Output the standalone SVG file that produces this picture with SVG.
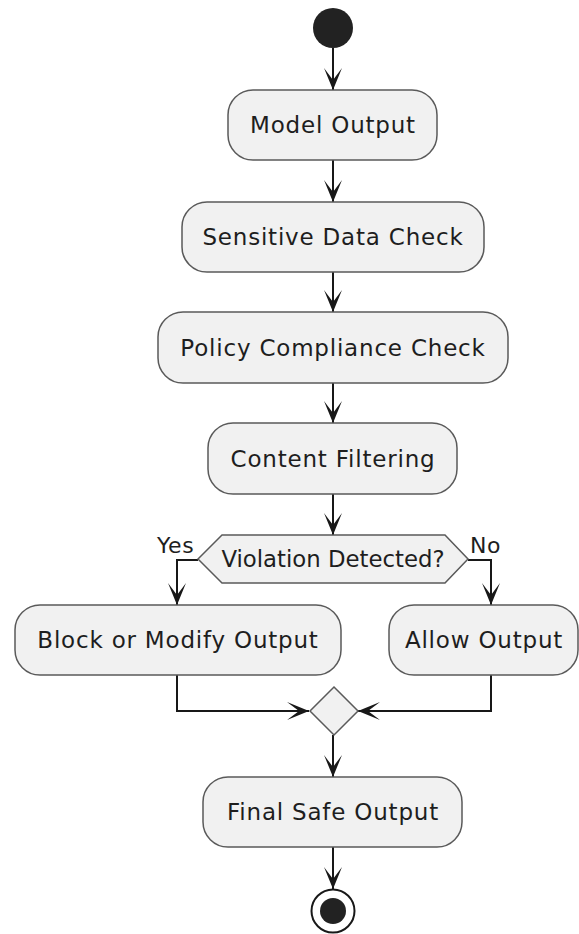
<svg xmlns="http://www.w3.org/2000/svg" width="579" height="934" viewBox="0 0 579 934">
<style>
.box{fill:#F1F1F1;stroke:#5a5a5a;stroke-width:1.5}
.lbl{font-family:"DejaVu Sans",sans-serif;font-size:23px;letter-spacing:0.8px;fill:#1e1e1e;text-anchor:middle}
.dlbl{font-family:"DejaVu Sans",sans-serif;font-size:22.8px;fill:#1e1e1e;text-anchor:middle}
.elbl{font-family:"DejaVu Sans",sans-serif;font-size:22px;letter-spacing:0.6px;fill:#1e1e1e}
.con{fill:none;stroke:#181818;stroke-width:2;marker-end:url(#arr)}
</style>
<defs>
<marker id="arr" viewBox="0 0 22 18" refX="22" refY="9" markerWidth="22" markerHeight="18" markerUnits="userSpaceOnUse" orient="auto">
<path d="M0,0 L22,9 L0,18 L12,9 Z" fill="#181818"/>
</marker>
</defs>
<rect width="579" height="934" fill="#ffffff"/>
<g id="connectors">
<path class="con" d="M333,48 V90"/>
<path class="con" d="M333,160 V202"/>
<path class="con" d="M333,272 V312"/>
<path class="con" d="M333,383 V423"/>
<path class="con" d="M333,494 V535"/>
<path class="con" d="M198,560 H177 V605"/>
<path class="con" d="M468,560 H491 V605"/>
<path class="con" d="M177,675 V711 H309"/>
<path class="con" d="M491,675 V711 H358"/>
<path class="con" d="M333,735 V777"/>
<path class="con" d="M333,847 V889"/>
<text class="elbl" x="157" y="553">Yes</text>
<text class="elbl" x="470" y="553">No</text>
</g>
<g id="start"><circle cx="333" cy="28" r="20" fill="#222222"/></g>
<g id="model-output"><rect class="box" x="228" y="90" width="209" height="70" rx="25"/><text class="lbl" x="333" y="133">Model Output</text></g>
<g id="sensitive-data-check"><rect class="box" x="182" y="202" width="302" height="70" rx="25"/><text class="lbl" x="333" y="245">Sensitive Data Check</text></g>
<g id="policy-compliance-check"><rect class="box" x="158" y="312" width="350" height="71" rx="25"/><text class="lbl" x="333" y="356">Policy Compliance Check</text></g>
<g id="content-filtering"><rect class="box" x="208" y="423" width="249" height="71" rx="25"/><text class="lbl" x="333" y="467">Content Filtering</text></g>
<g id="violation-detected"><polygon class="box" points="198,559 222,535 445,535 468,559 445,583 222,583"/><text class="dlbl" x="333" y="567">Violation Detected?</text></g>
<g id="block-or-modify-output"><rect class="box" x="15" y="605" width="326" height="70" rx="25"/><text class="lbl" x="178" y="648">Block or Modify Output</text></g>
<g id="allow-output"><rect class="box" x="389" y="605" width="189" height="70" rx="25"/><text class="lbl" x="484" y="648">Allow Output</text></g>
<g id="merge"><polygon class="box" points="334,687 358,711 334,735 310,711"/></g>
<g id="final-safe-output"><rect class="box" x="203" y="777" width="259" height="70" rx="25"/><text class="lbl" x="333" y="820">Final Safe Output</text></g>
<g id="end"><circle cx="333" cy="911" r="21.5" fill="#ffffff" stroke="#181818" stroke-width="2"/><circle cx="333" cy="911" r="13" fill="#222222"/></g>
</svg>
